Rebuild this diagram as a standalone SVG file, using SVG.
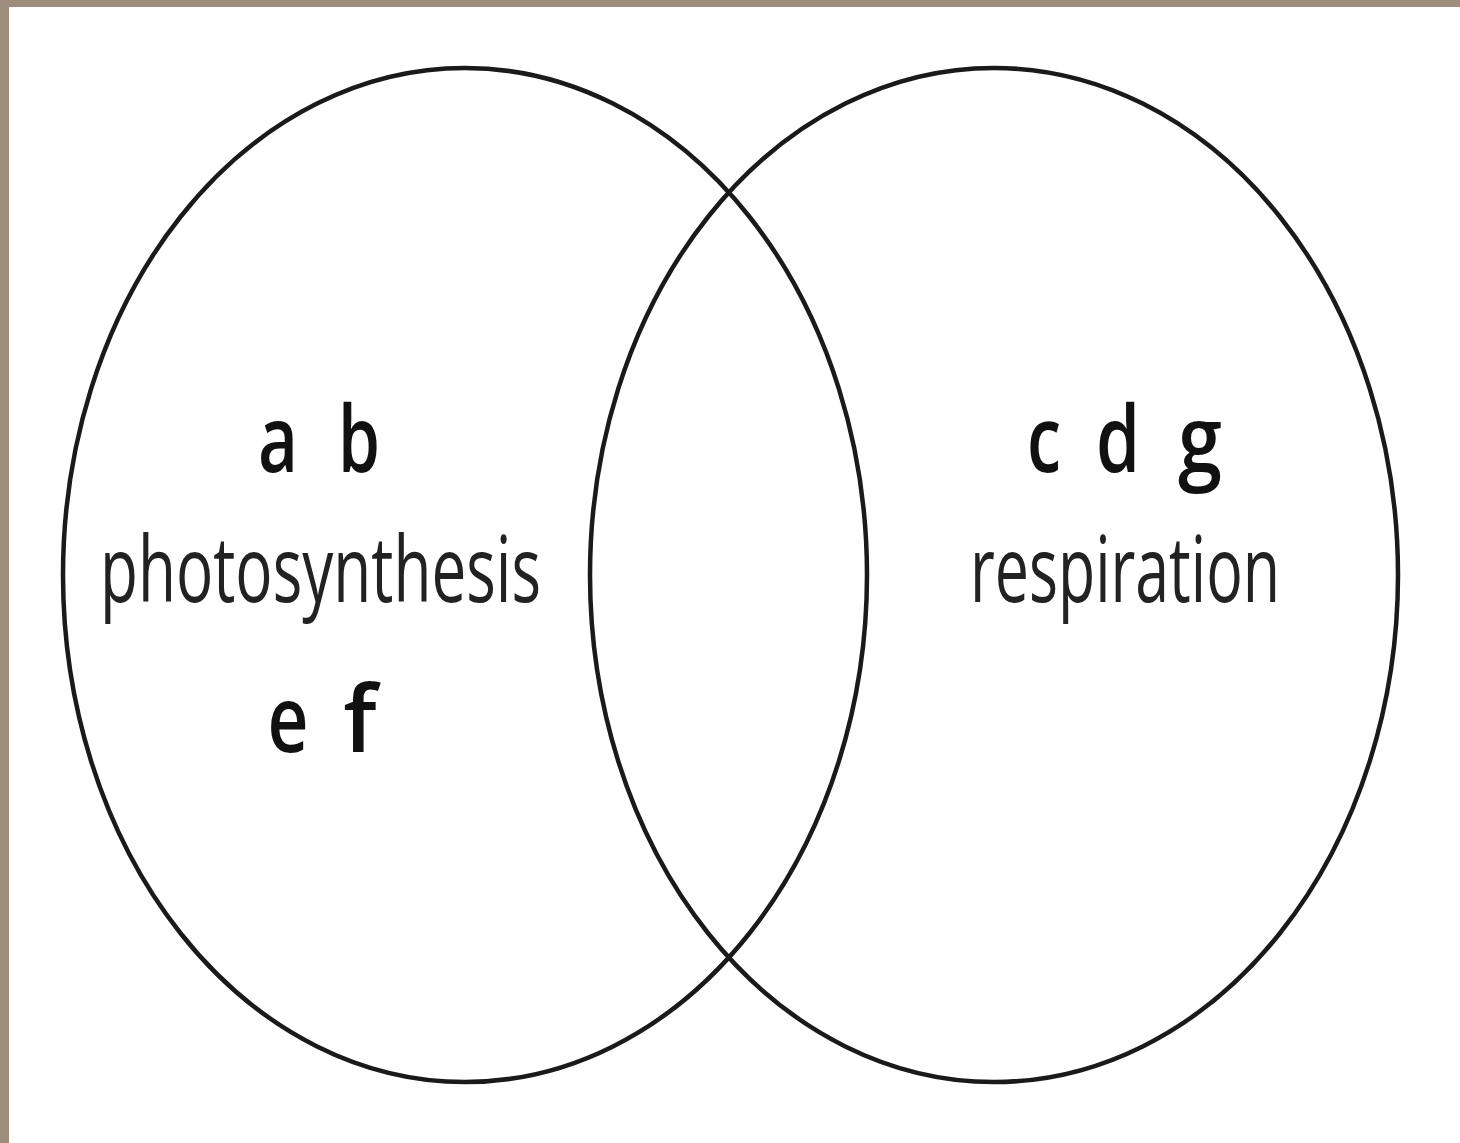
<svg xmlns="http://www.w3.org/2000/svg" width="1460" height="1143" viewBox="0 0 1460 1143">
<style>
.ring{fill:none;stroke:#1a1a1a;stroke-width:4.5}
.lt{font-family:"Open Sans","Liberation Sans",sans-serif;font-weight:600;font-size:92px;fill:#111;text-anchor:middle}
.wd{font-family:"Open Sans","Liberation Sans",sans-serif;font-weight:400;font-size:92px;fill:#222}
</style>
<rect x="0" y="0" width="1460" height="1143" fill="#ffffff"/>
<rect x="0" y="0" width="1460" height="7" fill="#9e8c7c"/>
<rect x="0" y="0" width="9" height="1143" fill="#9e8c7c"/>
<g id="photosynthesis">
<ellipse class="ring" cx="465" cy="575" rx="402" ry="507"/>
<text class="lt" x="278" y="472" textLength="40" lengthAdjust="spacingAndGlyphs">a</text>
<text class="lt" x="359" y="472" textLength="42" lengthAdjust="spacingAndGlyphs">b</text>
<text class="wd" x="100" y="602" textLength="441" lengthAdjust="spacingAndGlyphs">photosynthesis</text>
<text class="lt" x="288" y="752" textLength="41" lengthAdjust="spacingAndGlyphs">e</text>
<text class="lt" x="360" y="752">f</text>
</g>
<g id="respiration">
<ellipse class="ring" cx="994" cy="575" rx="404" ry="507"/>
<text class="lt" x="1044" y="472" textLength="34" lengthAdjust="spacingAndGlyphs">c</text>
<text class="lt" x="1118" y="472" textLength="44" lengthAdjust="spacingAndGlyphs">d</text>
<text class="lt" x="1200" y="472" textLength="44" lengthAdjust="spacingAndGlyphs">g</text>
<text class="wd" x="970" y="602" textLength="310" lengthAdjust="spacingAndGlyphs">respiration</text>
</g>
<g id="connectors"></g>
</svg>
